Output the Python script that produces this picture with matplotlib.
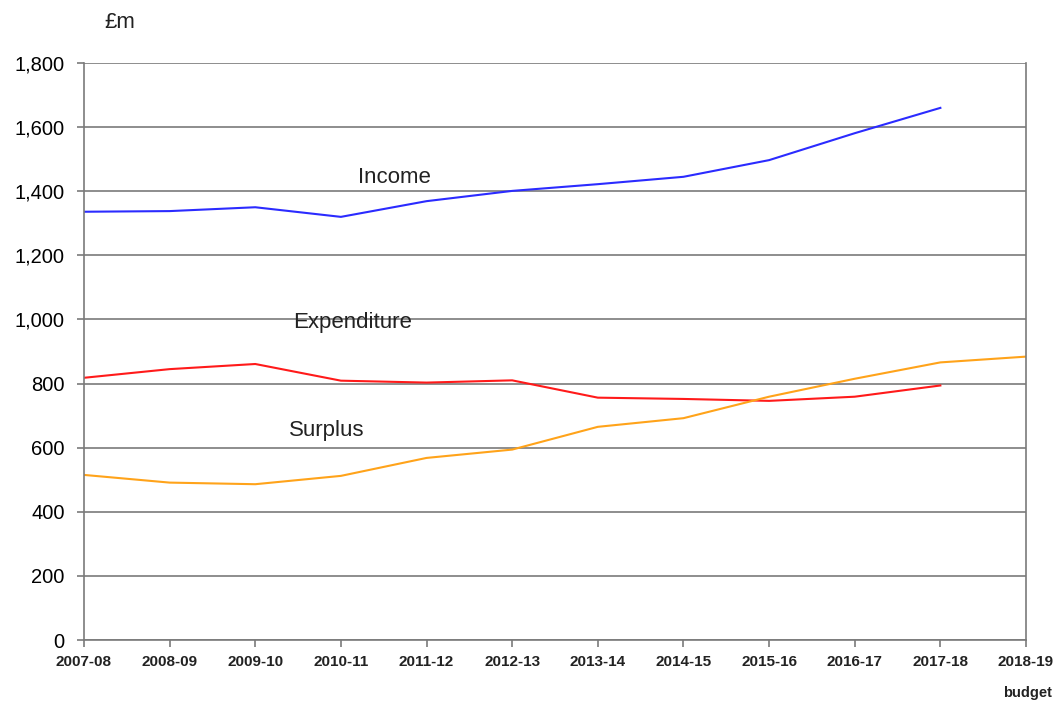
import matplotlib
matplotlib.use("Agg")
import matplotlib.pyplot as plt

plt.rcParams['font.family'] = ['Liberation Sans', 'DejaVu Sans']

years = ['2007-08', '2008-09', '2009-10', '2010-11', '2011-12', '2012-13',
         '2013-14', '2014-15', '2015-16', '2016-17', '2017-18', '2018-19']
income = [1336, 1338, 1350, 1320, 1369, 1401, 1422, 1445, 1497, 1581, 1660]
expenditure = [818, 845, 861, 809, 803, 810, 756, 752, 746, 759, 794]
surplus = [515, 491, 486, 512, 568, 594, 665, 692, 759, 815, 866, 884]
yticks = [0, 200, 400, 600, 800, 1000, 1200, 1400, 1600, 1800]

fig = plt.figure(figsize=(10.6, 7.02), dpi=100)
ax = fig.add_axes([84 / 1060, 1 - 640 / 702, (1026 - 84) / 1060, (640 - 63) / 702])

xs = list(range(len(years)))
ax.plot(xs[:len(income)], income, color='#2b2bff', lw=1.5)
ax.plot(xs[:len(expenditure)], expenditure, color='#ff1a1a', lw=1.5)
ax.plot(xs[:len(surplus)], surplus, color='#ffa31a', lw=1.5)

ax.set_xlim(0, len(years) - 1)
ax.set_ylim(0, 1800)
ax.set_yticks(yticks)
ax.set_yticklabels(['{:,}'.format(v) for v in yticks], fontsize=14.5)
ax.set_xticks(xs)
ax.set_xticklabels(years, fontsize=11, fontweight='bold', color='#222222')
ax.yaxis.grid(True, color='#7a7a7a', lw=1.2)
ax.set_axisbelow(True)
ax.tick_params(axis='both', direction='out', length=5, color='#7a7a7a', width=1.2)
ax.tick_params(axis='y', pad=9)
ax.tick_params(axis='x', pad=6)
for s in ['left', 'right', 'bottom']:
    ax.spines[s].set_color('#7a7a7a')
    ax.spines[s].set_linewidth(1.2)
ax.spines['top'].set_visible(False)

ax.text(3.62, 1444, 'Income', fontsize=16, ha='center', va='center', color='#222222')
ax.text(3.14, 992, 'Expenditure', fontsize=16, ha='center', va='center', color='#222222')
ax.text(2.83, 652, 'Surplus', fontsize=16, ha='center', va='center', color='#222222')
fig.text(120 / 1060, 1 - 22 / 702, '£m', fontsize=16, ha='center', va='center', color='#222222')
fig.text(1027 / 1060, 1 - 693 / 702, 'budget', fontsize=10.5, fontweight='bold',
         ha='center', va='center', color='#222222')

fig.savefig('out.png', dpi=100)
